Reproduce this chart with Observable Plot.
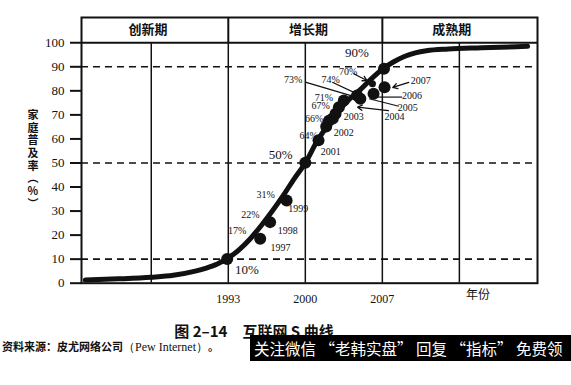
<!DOCTYPE html>
<html><head><meta charset="utf-8">
<script src="https://cdn.jsdelivr.net/npm/d3@7"></script>
<script src="https://cdn.jsdelivr.net/npm/@observablehq/plot@0.6"></script>
<style>
body{margin:0;background:#fff;}
#wrap{position:relative;width:571px;height:385px;overflow:hidden;background:#fff;}
#chart{position:absolute;left:0;top:0;}
#caption{position:absolute;left:0;top:321px;width:508px;text-align:center;font:bold 15px "Noto Sans CJK SC";color:#111;line-height:20px;white-space:pre;}
#source{position:absolute;left:2px;top:338px;font:bold 11px "Noto Sans CJK SC";color:#111;line-height:16px;white-space:nowrap;}
#source .en{font-family:"Liberation Serif";font-weight:normal;font-size:12px;}
#promo{position:absolute;left:250px;top:335px;width:321px;height:26px;background:#000;color:#fff;font:15.5px "Noto Sans CJK SC";line-height:26px;white-space:nowrap;overflow:hidden;padding-left:4px;box-sizing:border-box;}
</style></head>
<body>
<div id="wrap">
<div id="chart"></div>
<div id="caption">图 2–14　互联网 S 曲线</div>
<div id="source">资料来源：皮尤网络公司<span class="en">（Pew Internet）</span>。</div>
<div id="promo">关注微信 “老韩实盘” 回复 “指标” 免费领</div>
</div>
<script>
// S-curve (year, household penetration %)
const curveYears  = [1980, 1983, 1986, 1988, 1990, 1991, 1992, 1993, 1994, 1995, 1996, 1997, 1998, 1999, 2000, 2001, 2002, 2003, 2004, 2005, 2006, 2007, 2008, 2009, 2010, 2011, 2013, 2016, 2020.2];
const curveValues = [1.3, 1.8, 2.5, 3.3, 5, 6.3, 8, 10.5, 14, 18.5, 24, 30, 36.5, 43.5, 50, 58.5, 65.5, 71.5, 76.5, 80.5, 85, 89, 92, 94.3, 95.8, 96.7, 97.4, 97.9, 98.5];

// observed points (position along year axis, %)
const dotYears  = [1992.9, 1995.9, 1996.8, 1998.3, 2000.0, 2001.2, 2001.9, 2002.15, 2002.5, 2002.75, 2003.05, 2003.5, 2004.7, 2005.0, 2006.2, 2007.2, 2007.15];
const dotValues = [10.1, 18.5, 25.4, 34.4, 50.1, 59.4, 65.2, 67.6, 68.5, 70.5, 73.2, 76.0, 78.1, 76.7, 78.8, 81.5, 89.2];
const smallDotYears = [2006.1];
const smallDotValues = [82.9];

// percentage labels
const pctText = ["17%", "22%", "31%", "64%", "66%", "67%", "71%", "73%", "74%", "70%"];
const pctX    = [1993.8, 1995.0, 1996.4, 2000.3, 2000.8, 2001.4, 2001.7, 1998.9, 2002.3, 2003.9];
const pctY    = [21.9, 28.5, 36.9, 61.4, 68.4, 73.9, 77.1, 84.6, 84.7, 88.1];
const bigPctText = ["10%", "50%", "90%"];
const bigPctX    = [1994.7, 1997.75, 2004.7];
const bigPctY    = [5.6, 53.5, 95.8];

// year labels
const yearText = ["1997", "1998", "1999", "2001", "2002", "2003", "2004", "2005", "2006", "2007"];
const yearX    = [1997.75, 1998.4, 1999.35, 2002.3, 2003.5, 2004.4, 2008.1, 2009.3, 2009.7, 2010.5];
const yearY    = [14.7, 21.9, 30.9, 54.5, 62.6, 69.3, 69.1, 72.8, 77.8, 84.3];

// leader lines (from label to point)
const leadX1 = [2000.0, 2002.45, 2008.8, 2008.5];
const leadY1 = [83.6, 83.6, 77.4, 73.6];
const leadX2 = [2004.6, 2005.0, 2006.55, 2005.8];
const leadY2 = [77.4, 78.1, 77.4, 76.7];
const arrowX1 = [2004.4, 2009.4, 2007.55];
const arrowY1 = [87.1, 83.5, 71.8];
const arrowX2 = [2005.6, 2007.95, 2004.75];
const arrowY2 = [84.3, 81.4, 73.2];

// phases
const phaseNames = ["创新期", "增长期", "成熟期"];
const phaseLabelX = [1985.7, 2000.3, 2013.3];
const phaseDividers = [1993, 2007];

const xTicks = [1993, 2000, 2007];
const yTicks = [0, 10, 20, 30, 40, 50, 60, 70, 80, 90, 100];
const gridYears = [1986, 1993, 2000, 2007, 2014];
const dashedLevels = [10, 50, 90];
const yTitleChars = ["家", "庭", "普", "及", "率", "︵", "%", "︶"];

const X0 = 1979.66, X1 = 2021.1, YTOP = 110.5;

const curve = curveYears.map((x, i) => ({x, y: curveValues[i]}));
const dots = dotYears.map((x, i) => ({x, y: dotValues[i]}));
const smallDots = smallDotYears.map((x, i) => ({x, y: smallDotValues[i]}));
const pcts = pctText.map((t, i) => ({t, x: pctX[i], y: pctY[i]}));
const bigPcts = bigPctText.map((t, i) => ({t, x: bigPctX[i], y: bigPctY[i]}));
const years = yearText.map((t, i) => ({t, x: yearX[i], y: yearY[i]}));
const leads = leadX1.map((x1, i) => ({x1, y1: leadY1[i], x2: leadX2[i], y2: leadY2[i]}));
const arrows = arrowX1.map((x1, i) => ({x1, y1: arrowY1[i], x2: arrowX2[i], y2: arrowY2[i]}));
const phases = phaseNames.map((t, i) => ({t, x: phaseLabelX[i]}));

const ink = "#111";
const chart = Plot.plot({
  width: 571, height: 310,
  marginLeft: 81, marginRight: 34, marginTop: 17, marginBottom: 27.3,
  x: {domain: [X0, X1]},
  y: {domain: [0, YTOP]},
  style: {fontFamily: "Liberation Serif", fontSize: "13px", color: ink, background: "white", overflow: "visible"},
  marks: [
    Plot.ruleX(gridYears, {y1: 0, y2: 100, stroke: ink, strokeWidth: 1.5}),
    Plot.ruleX(phaseDividers, {y1: 100, y2: YTOP, stroke: ink, strokeWidth: 2}),
    Plot.ruleY(dashedLevels, {stroke: ink, strokeWidth: 1.6, strokeDasharray: "7,5"}),
    Plot.ruleY([100], {stroke: ink, strokeWidth: 2}),
    Plot.frame({stroke: ink, strokeWidth: 2}),
    Plot.text(phases, {x: "x", y: 105.3, text: "t", fontFamily: "Noto Sans CJK SC", fontWeight: "bold", fontSize: 13, fill: ink}),
    Plot.axisY({ticks: yTicks, tickSize: 11, tickPadding: 6, strokeWidth: 2, fontSize: 13, label: null}),
    Plot.axisX({ticks: xTicks, tickSize: 0, tickPadding: 11, tickFormat: d => String(d), fontSize: 12, label: null}),
    Plot.text(["年份"], {x: 2015.7, frameAnchor: "bottom", dy: 16, text: d => d, fontFamily: "Noto Sans CJK SC", fontSize: 12, fill: ink}),
    Plot.text(yTitleChars, {frameAnchor: "left", dx: -54, y: (d, i) => 69.7 - i * 5.25, text: d => d, fontFamily: "Noto Sans CJK SC", fontWeight: "bold", fontSize: 11, fill: ink}),
    Plot.line(curve, {x: "x", y: "y", curve: "monotone-x", stroke: ink, strokeWidth: 5, strokeLinecap: "round"}),
    Plot.dot(dots, {x: "x", y: "y", r: 6, fill: ink}),
    Plot.dot(smallDots, {x: "x", y: "y", r: 3.5, fill: ink}),
    Plot.link(leads, {x1: "x1", y1: "y1", x2: "x2", y2: "y2", stroke: ink, strokeWidth: 1.2}),
    Plot.arrow(arrows, {x1: "x1", y1: "y1", x2: "x2", y2: "y2", stroke: ink, strokeWidth: 1.3, headLength: 6}),
    Plot.text(pcts, {x: "x", y: "y", text: "t", fontSize: 10, fill: ink}),
    Plot.text(bigPcts, {x: "x", y: "y", text: "t", fontSize: 13, fill: ink}),
    Plot.text(years, {x: "x", y: "y", text: "t", fontSize: 10, fill: ink})
  ]
});
document.getElementById("chart").appendChild(chart);
</script>
</body></html>
